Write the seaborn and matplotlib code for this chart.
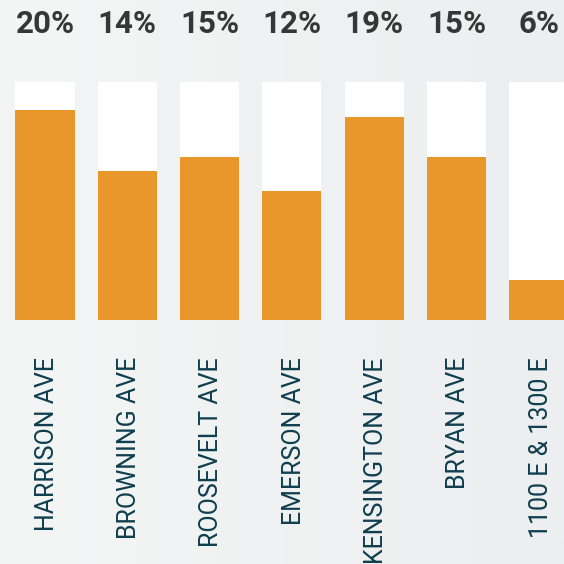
import matplotlib
matplotlib.use("Agg")
import matplotlib.pyplot as plt
import numpy as np
import pandas as pd
import seaborn as sns

sns.set_style("white")

streets = ["HARRISON AVE", "BROWNING AVE", "ROOSEVELT AVE", "EMERSON AVE",
           "KENSINGTON AVE", "BRYAN AVE", "1100 E & 1300 E"]
share = [19.85, 14.1, 15.4, 12.2, 19.15, 15.4, 3.8]
pct_labels = ["20%", "14%", "15%", "12%", "19%", "15%", "6%"]
scale_max = 22.5

ORANGE = "#e9972a"
LABEL = "#0f3e4f"
DARK = "#363636"

df = pd.DataFrame({"street": streets, "share": share, "track": scale_max})

fig = plt.figure(figsize=(5.64, 5.64), dpi=100)

# soft left-to-right background gradient
bg = fig.add_axes([0, 0, 1, 1])
grad = np.linspace(0, 1, 256).reshape(1, -1)
cmap = matplotlib.colors.LinearSegmentedColormap.from_list("bg", ["#f4f5f5", "#eceeef"])
bg.imshow(grad, aspect="auto", cmap=cmap, extent=[0, 1, 0, 1])
bg.axis("off")

ax = fig.add_axes([3.83 / 564, 244 / 564, 576.3 / 564, 238 / 564])
ax.patch.set_alpha(0)

sns.barplot(data=df, x="street", y="track", color="white", width=0.717,
            saturation=1, ax=ax, linewidth=0)
sns.barplot(data=df, x="street", y="share", color=ORANGE, width=0.717,
            saturation=1, ax=ax, linewidth=0)

ax.set_xlim(-0.5, 6.5)
ax.set_ylim(0, scale_max)
ax.set_xlabel("")
ax.set_ylabel("")
ax.set_xticks([])
ax.set_yticks([])
for s in ax.spines.values():
    s.set_visible(False)

px = scale_max / 238
for i, (name, lab) in enumerate(zip(streets, pct_labels)):
    ax.text(i, scale_max + 58 * px, lab, ha="center", va="center",
            fontsize=22.5, fontweight="bold", family="Roboto", color=DARK,
            clip_on=False)
    ax.text(i + 0.02, -37 * px, name, ha="center", va="top", rotation=90,
            fontsize=18, family="Roboto", color=LABEL, clip_on=False)

fig.savefig("out.png", dpi=100)
